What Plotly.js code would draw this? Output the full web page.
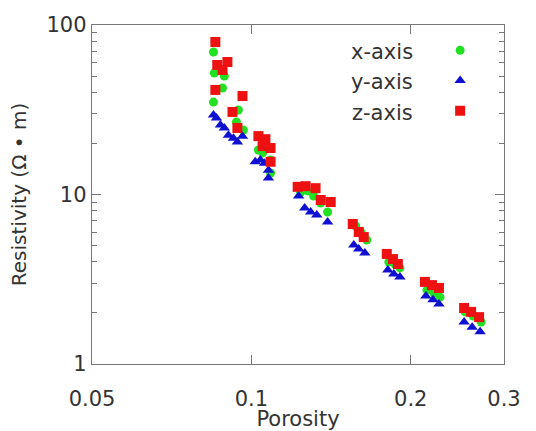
<!DOCTYPE html>
<html><head><meta charset="utf-8">
<script src="https://cdn.plot.ly/plotly-3.0.1.min.js"></script>
<style>html,body{margin:0;padding:0;background:#fff}#c{width:536px;height:431px}</style>
</head><body><div id="c"></div>
<script>
// Porosity (x) and resistivity (Ω·m) for each measuring direction
const xAxisPorosity = [0.0848,0.0851,0.0889,0.0882,0.0848,0.0945,0.0937,0.0966,0.1031,0.1050,0.1068,0.1087,0.1087,0.1239,0.1277,0.1311,0.1352,0.1393,0.1574,0.1609,0.1652,0.1818,0.1867,0.1908,0.2146,0.2212,0.2271,0.2533,0.2623,0.2716];
const xAxisResist   = [69.3,52.1,50.0,42.5,35.1,31.5,26.8,24.0,18.3,17.6,18.8,16.0,13.4,10.3,10.5,9.80,8.91,7.88,6.52,6.01,5.39,4.00,3.89,3.69,2.73,2.62,2.48,2.03,1.92,1.77];

const yAxisPorosity = [0.0848,0.0859,0.0874,0.0889,0.0905,0.0925,0.0941,0.0962,0.1017,0.1040,0.1059,0.1077,0.1077,0.1228,0.1261,0.1294,0.1329,0.1393,0.1561,0.1595,0.1638,0.1810,0.1858,0.1908,0.2136,0.2203,0.2261,0.2522,0.2612,0.2704];
const yAxisResist   = [29.4,28.3,25.7,24.7,22.4,21.5,20.4,22.1,15.6,16.0,15.3,13.9,12.5,9.80,8.32,7.88,7.57,6.88,5.04,4.77,4.52,3.59,3.40,3.26,2.52,2.39,2.26,1.77,1.65,1.55];

const zAxisPorosity = [0.0855,0.0862,0.0901,0.0882,0.0855,0.0962,0.0921,0.0941,0.1031,0.1063,0.1050,0.1087,0.1087,0.1223,0.1266,0.1322,0.1352,0.1412,0.1554,0.1595,0.1630,0.1802,0.1851,0.1891,0.2127,0.2193,0.2261,0.2522,0.2600,0.2692];
const zAxisResist   = [79.4,58.1,60.5,54.3,41.4,38.1,30.7,24.7,22.1,21.2,19.3,18.8,15.6,11.1,11.2,10.9,9.28,9.03,6.70,6.01,5.61,4.46,4.16,3.89,3.05,2.92,2.81,2.14,2.03,1.89];

const seriesNames = ['x-axis','y-axis','z-axis'];
const xTickVals = [0.05,0.1,0.2,0.3];
const xTickText = ['0.05','0.1','0.2','0.3'];
const yTickVals = [1,10,100];
const yTickText = ['1','10','100'];

const FONT = 'DejaVu Sans, Verdana, sans-serif';
const TXT = '#333';
const traces = [
  {x:xAxisPorosity,y:xAxisResist,name:' ',type:'scatter',mode:'markers',
   marker:{symbol:'circle',size:9,color:'#22e022'}},
  {x:yAxisPorosity,y:yAxisResist,name:' ',type:'scatter',mode:'markers',
   marker:{symbol:'triangle-up',size:10,color:'#1010d0'}},
  {x:zAxisPorosity,y:zAxisResist,name:' ',type:'scatter',mode:'markers',
   marker:{symbol:'square',size:10,color:'#ee1111'}}
];
const legY = [0.920,0.832,0.740];
const annotations = seriesNames.map((t,i)=>({text:t,xref:'paper',yref:'paper',x:0.784,y:legY[i],
  xanchor:'right',yanchor:'middle',showarrow:false,font:{family:FONT,size:21,color:TXT}}));
const axisCommon = {type:'log',showline:true,linecolor:'#777',linewidth:1.2,mirror:'ticks',
  ticks:'inside',ticklen:9,tickcolor:'#777',showgrid:false,zeroline:false,
  tickfont:{family:FONT,size:21,color:TXT}};
const layout = {
  width:536,height:431,margin:{l:92,r:32,t:25,b:67},
  paper_bgcolor:'#fff',plot_bgcolor:'#fff',
  font:{family:FONT,color:TXT},
  xaxis:Object.assign({},axisCommon,{range:[Math.log10(0.05),Math.log10(0.3)],tickmode:'array',
    tickvals:xTickVals,ticktext:xTickText,ticklabelstandoff:16,
    title:{text:'Porosity',font:{family:FONT,size:21,color:TXT},standoff:8}}),
  yaxis:Object.assign({},axisCommon,{range:[0,2],tickmode:'array',tickvals:yTickVals,ticktext:yTickText,
    minor:{tickvals:[2,3,4,5,6,7,8,9,20,30,40,50,60,70,80,90],ticks:'inside',ticklen:5,tickcolor:'#777'},
    title:{text:'Resistivity (Ω • m)',font:{family:FONT,size:20,color:TXT},standoff:14}}),
  showlegend:true,
  legend:{x:0.845,y:0.985,xanchor:'left',yanchor:'top',bgcolor:'rgba(0,0,0,0)',
    font:{family:FONT,size:21},tracegroupgap:0,itemwidth:30},
  annotations:annotations
};
Plotly.newPlot('c',traces,layout,{displayModeBar:false,staticPlot:true});
</script></body></html>
